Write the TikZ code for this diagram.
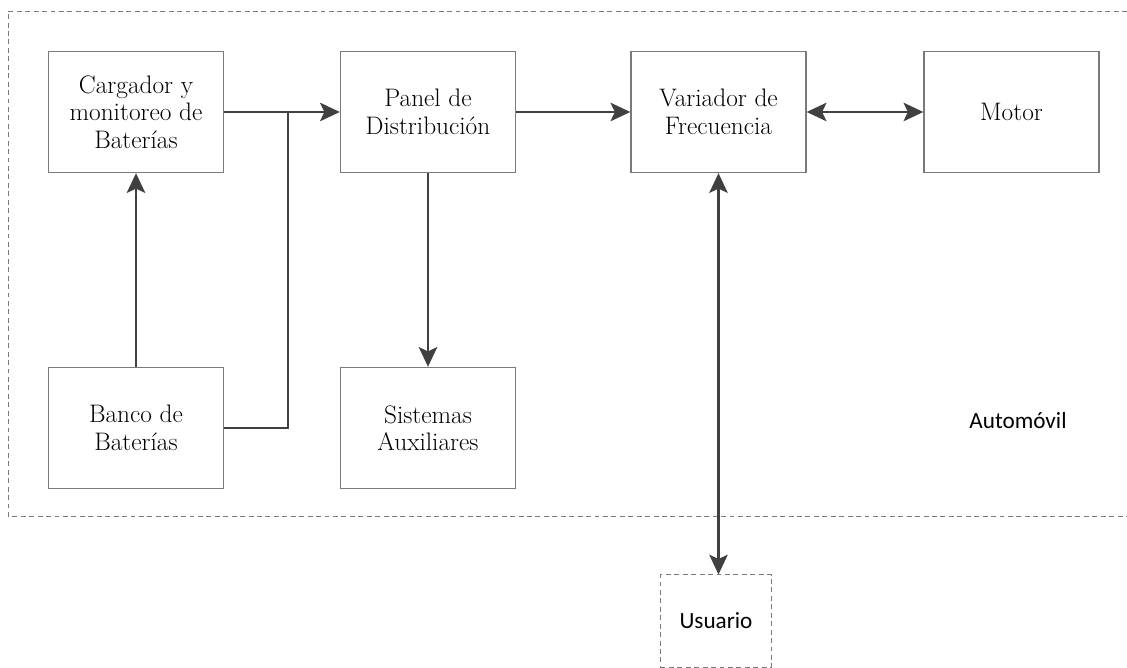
\documentclass[tikz,border=0pt]{standalone}
\usepackage{fontspec}
\usepackage{tikz}
\usetikzlibrary{arrows.meta}
\newfontfamily\calibri{Carlito}
\definecolor{gris}{HTML}{7A7A7A}
\definecolor{oscuro}{HTML}{404040}

\begin{document}
\begin{tikzpicture}[x=0.025cm,y=-0.025cm,>={Stealth[length=14pt,width=13pt,inset=3pt]},
  bloque/.style={draw=gris,line width=0.9pt,minimum width=4.375cm,minimum height=3.025cm,
    align=center,inner sep=0pt,font=\fontsize{18}{19.5}\selectfont},
  flecha/.style={->,draw=oscuro,line width=2.1pt},
  borde/.style={draw=gris,dash pattern=on 3.5pt off 2.5pt,line width=0.7pt}]

\useasboundingbox (0,0) rectangle (1127,668);

% zona del automovil
\draw[borde] (1127,11) -- (8,11) -- (8,516) -- (1127,516);
\node[font=\calibri\fontsize{16.5}{20}\selectfont] (automovil) at (1018,421) {Automóvil};

\node[bloque] (cargador) at (136,112) {Cargador y\\monitoreo de\\Baterías};
\node[bloque] (panel) at (428,112) {Panel de\\Distribución};
\node[bloque] (variador) at (718.5,112) {Variador de\\Frecuencia};
\node[bloque] (motor) at (1011.5,112) {Motor};
\node[bloque] (banco) at (136,428) {Banco de\\Baterías};
\node[bloque] (auxiliares) at (428,428) {Sistemas\\Auxiliares};
\node[borde,minimum width=2.775cm,minimum height=2.3cm,inner sep=0pt,
  font=\calibri\fontsize{16.5}{20}\selectfont] (usuario) at (716,621) {Usuario};

\coordinate (union) at (288,112);

\draw[flecha] (banco) -- (cargador);
\draw[flecha] (cargador) -- (panel);
\draw[flecha,-] (banco.east) -| (union);
\draw[flecha] (panel) -- (auxiliares);
\draw[flecha] (panel) -- (variador);
\draw[flecha,<->] (variador) -- (motor);
\draw[flecha,<->] (variador.south) -- (variador.south |- usuario.north);

\end{tikzpicture}
\end{document}
